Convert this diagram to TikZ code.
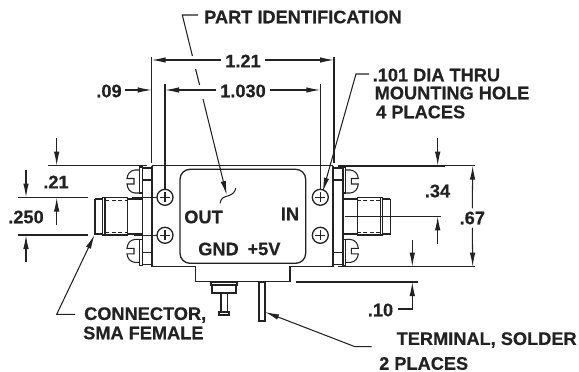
\documentclass[tikz,border=0pt]{standalone}
\usepackage{fontspec}
\setmainfont[BoldFeatures={FakeBold=0.5}]{Liberation Sans}
\usetikzlibrary{arrows.meta}
\definecolor{ink}{HTML}{222222}
\tikzset{
  ln/.style={draw=ink,line width=1.05pt},
  med/.style={draw=ink,line width=1.3pt},
  hv/.style={draw=ink,line width=1.9pt},
  tip/.style={-{Latex[length=14pt,width=5.5pt]}},
  lab/.style={font=\fontsize{18.2}{18}\selectfont\bfseries,text=ink,inner sep=0pt,anchor=center},
  labl/.style={lab,anchor=west},
}
\newcommand{\myscrew}{%
  \draw[ln] (139.5,170) -- (135,170) .. controls (130,170.5) and (127.5,174) .. (127,178.5) -- (134,178.5) -- (134,184) -- (127,184) .. controls (127.5,189) and (130,192.5) .. (135,193) -- (139.5,193);
  \draw[ln] (139.5,167) rectangle (142.5,193);
  \draw[ln] (142.5,168) rectangle (152,180);
}
\newcommand{\mysma}{%
  \myscrew
  \begin{scope}[shift={(0,432.4)},yscale=-1]\myscrew\end{scope}
  \draw[med] (142.4,167) -- (142.4,266);
  \draw[ln] (95,199) -- (102.7,199) (95,199) -- (95,234) -- (102.7,234);
  \draw[med] (102.7,197.7) rectangle (127.7,235);
  \draw[ln] (105,197.7) -- (105,235);
  \draw[ln,dashed,dash pattern=on 4pt off 2.5pt] (105,200.5) -- (127,200.5) (105,232.3) -- (127,232.3);
  \draw[ln] (127.7,199) -- (142.4,199) (127.7,234) -- (142.4,234);
}
\newcommand{\myhole}[2]{%
  \draw[med] (#1,#2) circle (8);
  \draw[ln] (#1-5,#2) -- (#1+5,#2) (#1,#2-5) -- (#1,#2+5);
}
\begin{document}
\begin{tikzpicture}[x=1pt,y=-1pt]
\useasboundingbox (0,0) rectangle (579,372);
% side parts
\mysma
\begin{scope}[shift={(485.3,0)},xscale=-1]\mysma\end{scope}
% body
\draw[ln] (152,165.7) -- (333.3,165.7);
\draw[hv] (152,165.7) -- (152,266.7);
\draw[hv] (333.3,165.7) -- (333.3,266.7);
\draw[med] (152,266.7) -- (195.7,266.7) -- (195.7,281.7) -- (290,281.7) -- (290,266.7) -- (333.3,266.7);
\draw[med,rounded corners=10pt] (180,169.3) rectangle (305.7,263.3);
\myhole{165}{197.3}\myhole{165}{235.3}\myhole{320.3}{197.3}\myhole{320.3}{235.3}
% stud and terminal
\draw[med] (211,282) rectangle (237,285);
\draw[med] (212,285) rectangle (236,293);
\draw[med] (221,293) rectangle (227.3,312);
\draw[med] (219,312) rectangle (229,315);
\draw[med] (259,282) rectangle (265,321);
% squiggle
\draw[ln] (220,203.3) .. controls (221,197) and (225,197) .. (229,195.5) .. controls (233,194) and (235,192) .. (235.7,188.3);
% hole centre lines
\draw[ln] (132,197.4) -- (157,197.4) (134,235.2) -- (157,235.2);
\draw[ln] (345,216.3) -- (441,216.3);
% extension lines
\draw[med] (48,165.7) -- (147,165.7);
\draw[hv] (338,165.7) -- (445,165.7);
\draw[ln] (445,165.7) -- (475,165.7);
\draw[med] (338,266.7) -- (475,266.7);
\draw[ln] (18,197.5) -- (88,197.5) (18,235) -- (88,235);
\draw[ln] (296,282) -- (418,282);
\draw[ln] (151.7,57) -- (151.7,163);
\draw[med] (334,57) -- (334,163);
\draw[ln] (165,84) -- (165,189);
\draw[ln] (320.3,84) -- (320.3,189);
% top dimensions
\node[lab] (d121) at (243,61) {1.21};
\node[lab] (d103) at (243,91) {1.030};
\node[lab] (d09) at (109,91) {.09};
\coordinate (a1) at (151.7,60); \coordinate (a2) at (334,60);
\coordinate (b1) at (165,90); \coordinate (b2) at (320.3,90);
\coordinate (b3) at (151.7,90);
\draw[ln,tip] (d121.west) ++(-4,-1) -- (a1);
\draw[ln,tip] (d121.east) ++(4,-1) -- (a2);
\draw[ln,tip] (d103.west) ++(-4,-1) -- (b1);
\draw[ln,tip] (d103.east) ++(4,-1) -- (b2);
\draw[ln,tip] (d09.east) ++(3,-1) -- (b3);
% left dims
\node[lab] (d21) at (56,182) {.21};
\node[lab] (d250) at (26,217) {.250};
\draw[ln,tip] (56.7,138) -- (56.7,165.7);
\draw[ln,tip] (26,170) -- (26,197.5);
\draw[ln,tip] (56.7,225) -- (56.7,197.5);
\draw[ln,tip] (26,262) -- (26,235);
% right dims
\node[lab] (d34) at (437.5,191) {.34};
\node[lab] (d67) at (472.3,218) {.67};
\node[lab] (d10) at (380.5,310) {.10};
\draw[ln,tip] (437.7,138) -- (437.7,165.7);
\draw[ln,tip] (437.7,244) -- (437.7,216.3);
\draw[ln,tip] (412.3,240) -- (412.3,266.7);
\draw[ln,tip] (d67.north) ++(0,-3) -- (472.7,165.7);
\draw[ln,tip] (d67.south) ++(0,3) -- (472.7,266.7);
\draw[ln,-{Latex[length=14pt,width=5.5pt]}] (d10.east) ++(5,-1) -| (412.3,282);
% labels
\node[labl] (part) at (204,17) {PART IDENTIFICATION};
\node[labl] (dia) at (372.5,75) {.101 DIA THRU};
\node[labl] (mh) at (374.5,93) {MOUNTING HOLE};
\node[labl] (pl4) at (376,112) {4 PLACES};
\node[labl] (conn) at (84,315) {CONNECTOR,};
\node[labl] (sma) at (83,333) {SMA FEMALE};
\node[labl] (term) at (396.5,340) {TERMINAL, SOLDER};
\node[labl] (pl2) at (379,363.5) {2 PLACES};
\node[lab] (out) at (203.5,217) {OUT};
\node[lab] (in) at (290,214) {IN};
\node[lab] (gnd) at (218.5,249) {GND};
\node[lab] (v5) at (264,249) {+5V};
% leaders
\draw[ln] (198,15) -- (182.3,15) -- (192.4,56);
\draw[ln] (195.6,69) -- (199.6,85);
\draw[ln,tip] (203,99) -- (226.7,195);
\draw[ln,tip] (369,74) -- (356,74) -- (322.7,191.7);
\draw[ln,tip] (75,314.3) -- (56.7,314.3) -- (94.5,235);
\draw[ln,tip] (371.7,346.7) -- (355,346.7) -- (265,312);
\end{tikzpicture}
\end{document}
